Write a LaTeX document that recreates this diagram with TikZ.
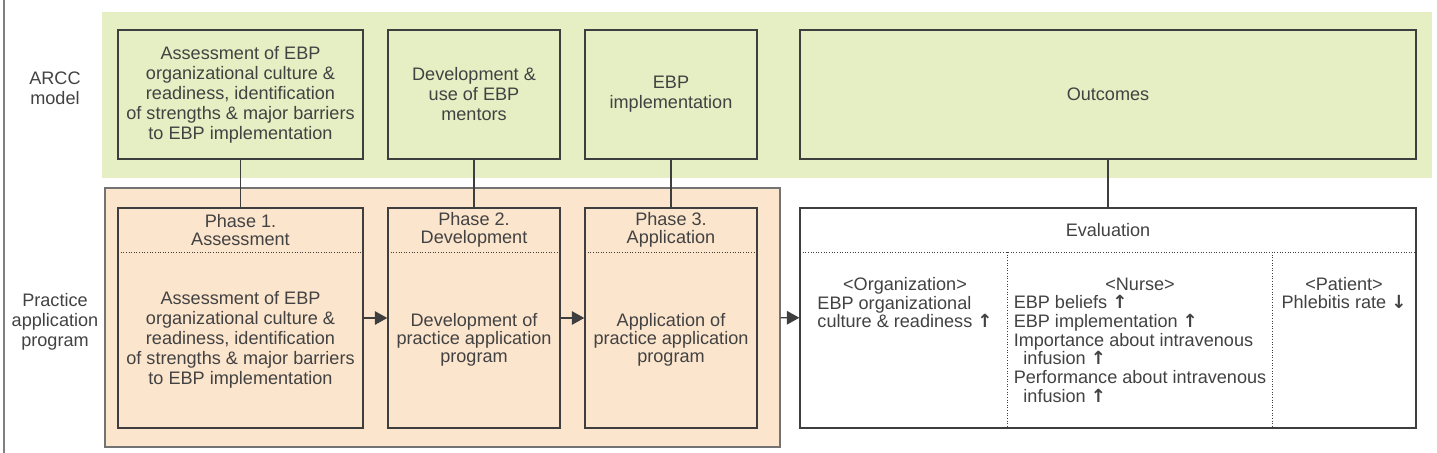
\documentclass[tikz,border=0pt]{standalone}
\usepackage{fontspec}
\setmainfont{Liberation Sans}
\newfontfamily\arrowfont{DejaVu Sans}
\usepackage{tikz}
\usetikzlibrary{arrows.meta}

\definecolor{arccgreen}{RGB}{230,238,196}
\definecolor{progorange}{RGB}{252,229,205}
\definecolor{linegray}{RGB}{62,62,62}
\definecolor{textgray}{RGB}{66,66,66}
\newcommand{\incr}{{\arrowfont\bfseries ↑}}
\newcommand{\decr}{{\arrowfont\bfseries ↓}}

\tikzset{
    every node/.append style={text=textgray, font=\fontsize{10.3}{11.4}\selectfont},
    box/.style={draw=linegray, line width=0.8pt, inner sep=0pt, align=center},
    sep/.style={draw=linegray, densely dotted, line width=0.5pt},
    >={Triangle[length=2.5mm, width=2.7mm]},
}

\begin{document}
\begin{tikzpicture}[x=0.02cm, y=-0.02cm]
    \useasboundingbox (0, 0) rectangle (1437, 453);
    \draw[gray, line width=0.9pt] (4, 0) -- (4, 453);

    % bands
    \node[fill=arccgreen, minimum width=26.6cm, minimum height=3.32cm] at (767, 95) (arcc) {};
    \node[box, fill=progorange, draw=gray!90!black, minimum width=13.5cm, minimum height=5.18cm] at (442.5, 317.5) (program) {};

    \node[align=center] at (55, 88) (arcclabel) {ARCC\\model};
    \node[align=center] at (55, 322) (programlabel) {Practice\\application\\program};

    % ARCC model
    \node[box, minimum width=4.9cm, minimum height=2.58cm] at (240.5, 94.5) (arcc1) {Assessment of EBP\\organizational culture \&\\readiness, identification\\of strengths \& major barriers\\to EBP implementation};
    \node[box, minimum width=3.44cm, minimum height=2.58cm] at (474, 94.5) (arcc2) {Development \&\\use of EBP\\mentors};
    \node[box, minimum width=3.44cm, minimum height=2.58cm] at (671, 94.5) (arcc3) {EBP\\implementation};
    \node[box, minimum width=12.32cm, minimum height=2.58cm] at (1108, 94.5) (outcomes) {Outcomes};

    % phases
    \node[box, minimum width=4.9cm, minimum height=4.4cm] at (240.5, 318) (phase1) {};
    \node[box, minimum width=3.44cm, minimum height=4.4cm] at (474, 318) (phase2) {};
    \node[box, minimum width=3.44cm, minimum height=4.4cm] at (671, 318) (phase3) {};
    \node[box, fill=white, minimum width=12.32cm, minimum height=4.4cm] at (1108, 318) (eval) {};

    \draw[sep] (118, 252) -- (363, 252);
    \draw[sep] (388, 252) -- (560, 252);
    \draw[sep] (585, 252) -- (757, 252);
    \draw[sep] (800, 252) -- (1416, 252);
    \draw[sep] (1007, 252) -- (1007, 428);
    \draw[sep] (1272, 252) -- (1272, 428);

    \node[align=center, font=\fontsize{10.3}{10.4}\selectfont] at (240.5, 230) (head1) {Phase 1.\\Assessment};
    \node[align=center, font=\fontsize{10.3}{10.4}\selectfont] at (474, 230) (head2) {Phase 2.\\Development};
    \node[align=center, font=\fontsize{10.3}{10.4}\selectfont] at (671, 230) (head3) {Phase 3.\\Application};
    \node at (1108, 230) (evalhead) {Evaluation};

    \node[align=center] at (240.5, 340) (body1) {Assessment of EBP\\organizational culture \&\\readiness, identification\\of strengths \& major barriers\\to EBP implementation};
    \node[align=center, font=\fontsize{10.3}{10.2}\selectfont] at (474, 340) (body2) {Development of\\practice application\\program};
    \node[align=center, font=\fontsize{10.3}{10.2}\selectfont] at (671, 340) (body3) {Application of\\practice application\\program};

    % evaluation columns
    \node[anchor=north, inner sep=0pt, font=\fontsize{10.3}{10.4}\selectfont] at (905, 277) (organization) {\begin{tabular}{@{}l@{}}\multicolumn{1}{c}{<Organization>}\\EBP organizational\\culture \& readiness \incr\end{tabular}};
    \node[anchor=north, inner sep=0pt, font=\fontsize{10.3}{10.4}\selectfont] at (1140, 277) (nurse) {\begin{tabular}{@{}l@{}}\multicolumn{1}{c}{<Nurse>}\\EBP beliefs \incr\\EBP implementation \incr\\Importance about intravenous\\\hspace*{5.5pt}infusion \incr\\Performance about intravenous\\\hspace*{5.5pt}infusion \incr\end{tabular}};
    \node[anchor=north, inner sep=0pt, align=center, font=\fontsize{10.3}{10.4}\selectfont] at (1344, 277) (patient) {<Patient>\\Phlebitis rate \decr};

    % connectors
    \draw[linegray, line width=0.8pt] (arcc1) -- (phase1);
    \draw[linegray, line width=0.8pt] (arcc2) -- (phase2);
    \draw[linegray, line width=0.8pt] (arcc3) -- (phase3);
    \draw[linegray, line width=0.8pt] (outcomes) -- (eval);

    \draw[->, linegray, line width=0.8pt] (phase1) -- (phase2);
    \draw[->, linegray, line width=0.8pt] (phase2) -- (phase3);
    \draw[->, linegray, line width=0.8pt] (program) -- (eval);
\end{tikzpicture}
\end{document}
